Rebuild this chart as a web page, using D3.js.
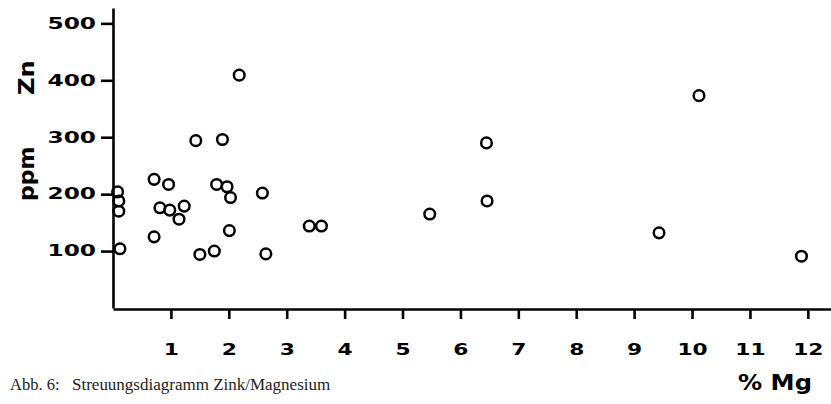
<!DOCTYPE html>
<html>
<head>
<meta charset="utf-8">
<script src="https://cdn.jsdelivr.net/npm/d3@7"></script>
<style>
    body { margin: 0; background: #fff; }
</style>
</head>
<body>
<div id="chart"></div>
<script>
// % Mg  /  ppm Zn
const mg = [0.08, 0.10, 0.10, 0.12, 0.71, 0.96, 0.81, 0.98, 1.23, 1.14,
    0.71, 1.50, 1.75, 1.79, 1.97, 2.03, 2.01, 2.58, 2.64, 1.43,
    1.89, 2.18, 3.39, 3.60, 6.45, 6.46, 5.47, 10.12, 9.43, 11.89];
const zn = [204, 188, 170, 104, 226, 217, 176, 172, 179, 156,
    125, 94, 100, 217, 213, 194, 136, 202, 95, 294,
    296, 409, 144, 144, 290, 188, 165, 373, 132, 91];

const xTicks = [1, 2, 3, 4, 5, 6, 7, 8, 9, 10, 11, 12];
const yTicks = [100, 200, 300, 400, 500];

const width = 831, height = 404;

const svg = d3.select("#chart").append("svg")
    .attr("width", width)
    .attr("height", height);

svg.append("rect").attr("width", width).attr("height", height).attr("fill", "#fff");

const x = d3.scaleLinear().domain([0, 12.4]).range([113, 831]);
const y = d3.scaleLinear().domain([0, 527]).range([308, 8]);

const gx = svg.append("g")
    .attr("transform", "translate(0,309)")
    .call(d3.axisBottom(x).tickValues(xTicks).tickSize(10).tickSizeOuter(0).tickPadding(25));

const gy = svg.append("g")
    .attr("transform", "translate(113,0)")
    .call(d3.axisLeft(y).tickValues(yTicks).tickSize(12).tickSizeOuter(0).tickPadding(5));

// wide bold face of the original: stretch horizontally
const kx = 1.45, ky = 1.55;
gx.selectAll("text")
    .attr("font-family", "DejaVu Sans, sans-serif")
    .attr("font-weight", "bold")
    .attr("font-size", 15)
    .attr("fill", "#000")
    .attr("transform", `scale(${kx},1)`);
gy.selectAll("text")
    .attr("font-family", "DejaVu Sans, sans-serif")
    .attr("font-weight", "bold")
    .attr("font-size", 15)
    .attr("fill", "#000")
    .attr("x", -17 / ky)
    .attr("transform", `scale(${ky},1)`);

svg.selectAll(".domain, .tick line")
    .attr("stroke", "#000")
    .attr("stroke-width", 2.6);

svg.append("g")
    .selectAll("circle")
    .data(mg.map((m, i) => ({m, z: zn[i]})))
    .enter().append("circle")
    .attr("cx", d => x(d.m))
    .attr("cy", d => y(d.z))
    .attr("r", 5.3)
    .attr("fill", "none")
    .attr("stroke", "#000")
    .attr("stroke-width", 2.5);

// axis titles
function widen(sel, k) {
    sel.attr("lengthAdjust", "spacingAndGlyphs")
        .attr("textLength", function () {
            return this.getComputedTextLength() * k;
        });
}

function title(tr, txt, size) {
    return svg.append("text")
        .attr("transform", tr)
        .attr("font-family", "DejaVu Sans, sans-serif")
        .attr("font-weight", "bold")
        .attr("font-size", size)
        .attr("fill", "#000")
        .text(txt);
}

title("translate(34,201) rotate(-90)", "ppm", 22).call(widen, 1.0);
title("translate(34,95) rotate(-90)", "Zn", 22).call(widen, 1.1);
title("translate(738,390)", "% Mg", 21).call(widen, 1.15);

// caption
svg.append("text")
    .attr("x", 10).attr("y", 390)
    .attr("font-family", "Liberation Serif, serif")
    .attr("font-size", 16.5)
    .attr("fill", "#222")
    .text("Abb. 6:");
svg.append("text")
    .attr("x", 72).attr("y", 390)
    .attr("font-family", "Liberation Serif, serif")
    .attr("font-size", 16.5)
    .attr("fill", "#222")
    .text("Streuungsdiagramm Zink/Magnesium")
    .call(widen, 1.03);
</script>
</body>
</html>
